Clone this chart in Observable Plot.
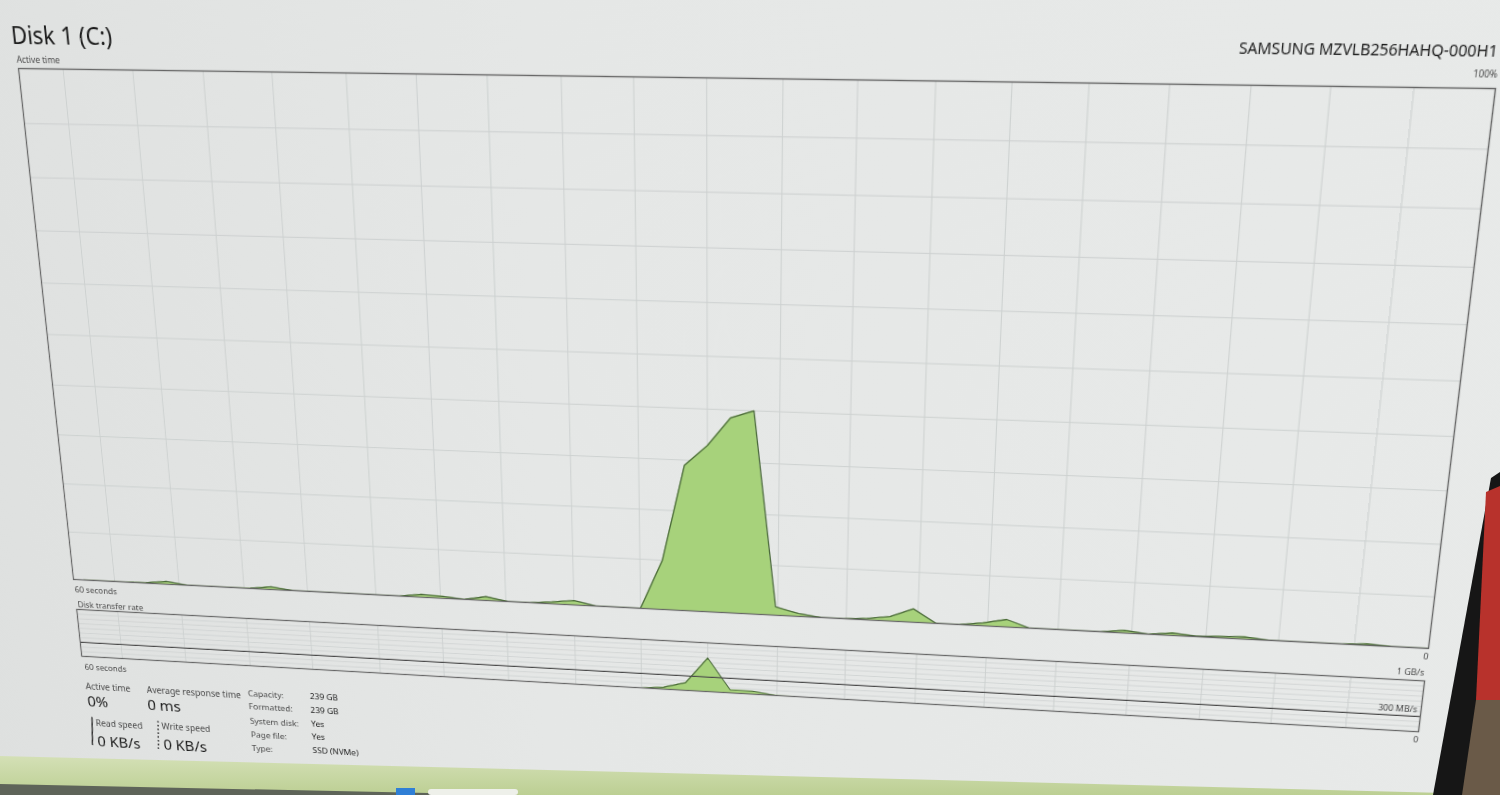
<!DOCTYPE html>
<html>
<head>
<meta charset="utf-8">
<script src="https://cdn.jsdelivr.net/npm/d3@7"></script>
<script src="https://cdn.jsdelivr.net/npm/@observablehq/plot@0.6"></script>
<style>
  html, body { margin: 0; padding: 0; width: 1500px; height: 795px; overflow: hidden; background: #dfe1e0;
    font-family: "Segoe UI", "Noto Sans", "Open Sans", sans-serif; }
  #screen { position: absolute; left: 0; top: 0; width: 1500px; height: 900px; transform-origin: 0 0; }
  #screen svg { font-family: "Segoe UI", "Noto Sans", "Open Sans", sans-serif; }
  .abs { position: absolute; }
  #bg { position: absolute; left: -400px; top: -300px; width: 2400px; height: 1500px;
    background: linear-gradient(90deg, #d9dcdb 0%, #dfe1e0 16%, #e5e7e6 40%, #e9ebea 100%); }
  #deco { position: absolute; left: 0; top: 0; }
</style>
</head>
<body>
<div id="screen"><div id="bg"></div></div>
<svg id="deco" width="1500" height="795"></svg>
<script>
// ---------------- data ----------------
const seconds = [0,1,2,3,4,5,6,7,8,9,10,11,12,13,14,15,16,17,18,19,20,21,22,23,24,25,26,27,28,29,30,
  31,32,33,34,35,36,37,38,39,40,41,42,43,44,45,46,47,48,49,50,51,52,53,54,55,56,57,58,59,60];
// Active time, % (oldest -> newest)
const activeTime = [0,0,0,0.1,0.6,0,0,0,0.05,0.6,
  0,0,0,0,0,0,0.6,0.4,0,0.8,
  0,0,0.4,0.9,0,0,0,10,29,33,
  38.5,40,1.7,0.6,0,0,0.3,0.9,2.7,0,
  0,0.6,1.5,0,0,0,0,0.55,0,0.5,
  0.1,0.3,0.45,0,0,0,0,0.3,0,0,0];
// Disk transfer rate, MB/s
const transferRate = [0,0,0,0,0,0,0,0,0,0,
  0,0,0,0,0,0,0,0,0,0,
  0,0,0,0,0,0,0,40,160,690,
  65,60,5,0,0,0,0,0,0,0,
  0,0,0,0,0,0,0,0,0,0,
  0,0,0,0,0,0,0,0,0,0,0];
// scrolling vertical grid lines (seconds)
const gridSeconds = [1.5,4.6,7.7,10.7,13.9,16.9,19.9,23.0,26.0,29.0,32.1,35.1,38.2,41.2,44.2,47.3,50.4,53.4,56.5];
const activeGrid = [10,20,30,40,50,60,70,80,90];
const rateGrid = [100,200,300,400,500,600,700,800,900];
const rateMarker = [300];

const titleText = "Disk 1 (C:)";
const modelText = "SAMSUNG MZVLB256HAHQ-000H1";
const activeLabel = "Active time";
const activeMax = "100%";
const rateLabel = "Disk transfer rate";
const rateMax = "1 GB/s";
const rateMarkLabel = "300 MB/s";
const spanLabel = "60 seconds";
const zeroLabel = "0";
const statHeads = ["Active time", "Average response time", "Read speed", "Write speed"];
const statNums = ["0%", "0 ms", "0 KB/s", "0 KB/s"];
const propLabels = ["Capacity:", "Formatted:", "System disk:", "Page file:", "Type:"];
const propValues = ["239 GB", "239 GB", "Yes", "Yes", "SSD (NVMe)"];

// ---------------- styles ----------------
const GRID = "#cdd1d0", FRAME = "#676767", FILL = "#a7d27b", LINE = "#4b6a3b", TEXT = "#1c1c1c", SUB = "#4a4a4a";

// ---------------- perspective (flat screen -> photo) ----------------
const FX0 = 40, FY0 = 72, FW = 1410, FH = 533;
function homography(src, dst) {
  const A = [];
  for (let i = 0; i < 4; i++) {
    const [u, v] = src[i], [x, y] = dst[i];
    A.push([u, v, 1, 0, 0, 0, -u * x, -v * x, x]);
    A.push([0, 0, 0, u, v, 1, -u * y, -v * y, y]);
  }
  for (let c = 0; c < 8; c++) {
    let p = c;
    for (let r = c + 1; r < 8; r++) if (Math.abs(A[r][c]) > Math.abs(A[p][c])) p = r;
    [A[c], A[p]] = [A[p], A[c]];
    for (let r = 0; r < 8; r++) {
      if (r === c) continue;
      const f = A[r][c] / A[c][c];
      for (let k = c; k < 9; k++) A[r][k] -= f * A[c][k];
    }
  }
  const h = A.map((row, i) => row[8] / row[i]);
  return [h[0], h[1], h[2], h[3], h[4], h[5], h[6], h[7], 1];
}
function applyH(H, u, v) {
  const w = H[6] * u + H[7] * v + H[8];
  return [(H[0] * u + H[1] * v + H[2]) / w, (H[3] * u + H[4] * v + H[5]) / w];
}
function invert3(m) {
  const [a, b, c, d, e, f, g, h, i] = m;
  const det = a * (e * i - f * h) - b * (d * i - f * g) + c * (d * h - e * g);
  return [(e * i - f * h) / det, (c * h - b * i) / det, (b * f - c * e) / det,
          (f * g - d * i) / det, (a * i - c * g) / det, (c * d - a * f) / det,
          (d * h - e * g) / det, (b * g - a * h) / det, (a * e - b * d) / det];
}
const H = homography(
  [[FX0, FY0], [FX0 + FW, FY0], [FX0 + FW, FY0 + FH], [FX0, FY0 + FH]],
  [[18, 68], [1495, 88], [1428, 648], [73, 579]]
);
const Hi = invert3(H);
const toFlat = (x, y) => applyH(Hi, x, y);

const screen = document.getElementById("screen");
screen.style.transform = `matrix3d(${H[0]},${H[3]},0,${H[6]},${H[1]},${H[4]},0,${H[7]},0,0,1,0,${H[2]},${H[5]},0,${H[8]})`;

// ---------------- main chart: Active time ----------------
const activeData = seconds.map((t, i) => ({t, v: activeTime[i]}));
const mainPlot = Plot.plot({
  width: FW + 2, height: FH + 2, margin: 1,
  x: {domain: [-0.5, 59.5], axis: null},
  y: {domain: [0, 100], axis: null},
  style: {background: "transparent", overflow: "visible"},
  marks: [
    Plot.ruleX(gridSeconds, {stroke: GRID, strokeWidth: 1}),
    Plot.ruleY(activeGrid, {stroke: GRID, strokeWidth: 1}),
    Plot.areaY(activeData, {x: "t", y: "v", fill: FILL, clip: true}),
    Plot.lineY(activeData, {x: "t", y: "v", stroke: LINE, strokeWidth: 1.3, clip: true}),
    Plot.frame({stroke: FRAME, strokeWidth: 1.3})
  ]
});
mainPlot.classList.add("abs");
Object.assign(mainPlot.style, {left: (FX0 - 1) + "px", top: (FY0 - 1) + "px"});
screen.appendChild(mainPlot);

// ---------------- transfer chart ----------------
const tTop = (toFlat(77, 610)[1] + toFlat(1425, 680)[1]) / 2;
const tBot = (toFlat(80, 655)[1] + toFlat(1418, 733)[1]) / 2;
const TH = Math.round(tBot - tTop);
const rateData = seconds.map((t, i) => ({t, v: transferRate[i]}));
const ratePlot = Plot.plot({
  width: FW + 2, height: TH + 2, margin: 1,
  x: {domain: [-0.5, 59.5], axis: null},
  y: {domain: [0, 1000], axis: null},
  style: {background: "transparent", overflow: "visible"},
  marks: [
    Plot.ruleX(gridSeconds, {stroke: GRID, strokeWidth: 1}),
    Plot.ruleY(rateGrid, {stroke: GRID, strokeWidth: 0.8}),
    Plot.areaY(rateData, {x: "t", y: "v", fill: FILL, clip: true}),
    Plot.lineY(rateData, {x: "t", y: "v", stroke: LINE, strokeWidth: 1.2, clip: true}),
    Plot.ruleY(rateMarker, {stroke: "#4a4a4a", strokeWidth: 1.3}),
    Plot.frame({stroke: FRAME, strokeWidth: 1.3})
  ]
});
ratePlot.classList.add("abs");
Object.assign(ratePlot.style, {left: (FX0 - 1) + "px", top: (Math.round(tTop) - 1) + "px"});
screen.appendChild(ratePlot);

// ---------------- texts ----------------
const svg = d3.create("svg").attr("width", 1500).attr("height", 900)
  .style("position", "absolute").style("left", "0px").style("top", "0px").style("overflow", "visible");
function label(str, px, py, size, anchor = "start", fill = TEXT) {
  const [u, v] = toFlat(px, py);
  svg.append("text").attr("x", u).attr("y", v).attr("font-size", size)
    .attr("text-anchor", anchor).attr("fill", fill).text(str);
}
label(titleText, 12, 44, 23);
label(modelText, 1497, 57, 13.8, "end");
label(activeLabel, 17, 63, 8.8, "start", SUB);
label(activeMax, 1497, 78, 8.2, "end", SUB);
label(spanLabel, 75, 592, 9.2, "start", SUB);
label(zeroLabel, 1428, 660, 8.6, "end", SUB);
label(rateLabel, 78, 607, 9.2, "start", SUB);
label(rateMax, 1424, 676, 8.6, "end", SUB);
label(rateMarkLabel, 1417, 712, 8.6, "end", SUB);
label(zeroLabel, 1418, 743, 8.6, "end", SUB);
label(spanLabel, 85, 670, 9.2, "start", SUB);

label(statHeads[0], 86, 689, 10, "start", SUB);
label(statHeads[1], 147, 693, 10, "start", SUB);
label(statNums[0], 88, 706.5, 17);
label(statNums[1], 148, 710, 17);
label(statHeads[2], 96, 726, 10, "start", SUB);
label(statNums[2], 98, 746, 17);
label(statHeads[3], 162, 729.5, 10, "start", SUB);
label(statNums[3], 164, 749.5, 17);
{
  const a = toFlat(92, 717), b = toFlat(92.5, 745);
  svg.append("line").attr("x1", a[0]).attr("y1", a[1]).attr("x2", b[0]).attr("y2", b[1])
    .attr("stroke", "#333").attr("stroke-width", 1.6);
  const c = toFlat(158, 721), d = toFlat(158.5, 749);
  svg.append("line").attr("x1", c[0]).attr("y1", c[1]).attr("x2", d[0]).attr("y2", d[1])
    .attr("stroke", "#333").attr("stroke-width", 1.6).attr("stroke-dasharray", "2,2.5");
}
const propY = [696, 709.5, 723.5, 737, 750.5];
const valY = [699, 712.5, 726.5, 739.5, 752.5];
propLabels.forEach((s, i) => label(s, 248 + i, propY[i], 9.6, "start", SUB));
propValues.forEach((s, i) => label(s, 310 + i * 0.7, valY[i], 9.4, "start", TEXT));
screen.appendChild(svg.node());

// ---------------- photo surroundings: desktop strip, taskbar, monitor bezel ----------------
const deco = d3.select("#deco");
const grad = deco.append("defs").append("linearGradient").attr("id", "desk").attr("x1", 0).attr("y1", 0).attr("x2", 0).attr("y2", 1);
grad.append("stop").attr("offset", "0%").attr("stop-color", "#d4e0b6");
grad.append("stop").attr("offset", "100%").attr("stop-color", "#bccf93");
deco.append("polygon").attr("points", "0,756 1445,793 1445,795 0,795").attr("fill", "url(#desk)");
deco.append("polygon").attr("points", "0,784 520,795 0,795").attr("fill", "#5e6459");
deco.append("rect").attr("x", 396).attr("y", 788).attr("width", 19).attr("height", 7).attr("fill", "#2f7fd6");
deco.append("rect").attr("x", 428).attr("y", 789).attr("width", 90).attr("height", 6).attr("rx", 3).attr("fill", "#eef0ea");
deco.append("polygon").attr("points", "1491,478 1500,472 1500,795 1433,795").attr("fill", "#161616");
deco.append("polygon").attr("points", "1486,492 1500,486 1500,700 1476,700").attr("fill", "#b8322c");
deco.append("polygon").attr("points", "1476,700 1500,700 1500,795 1462,795").attr("fill", "#6a5a48");
</script>
</body>
</html>
